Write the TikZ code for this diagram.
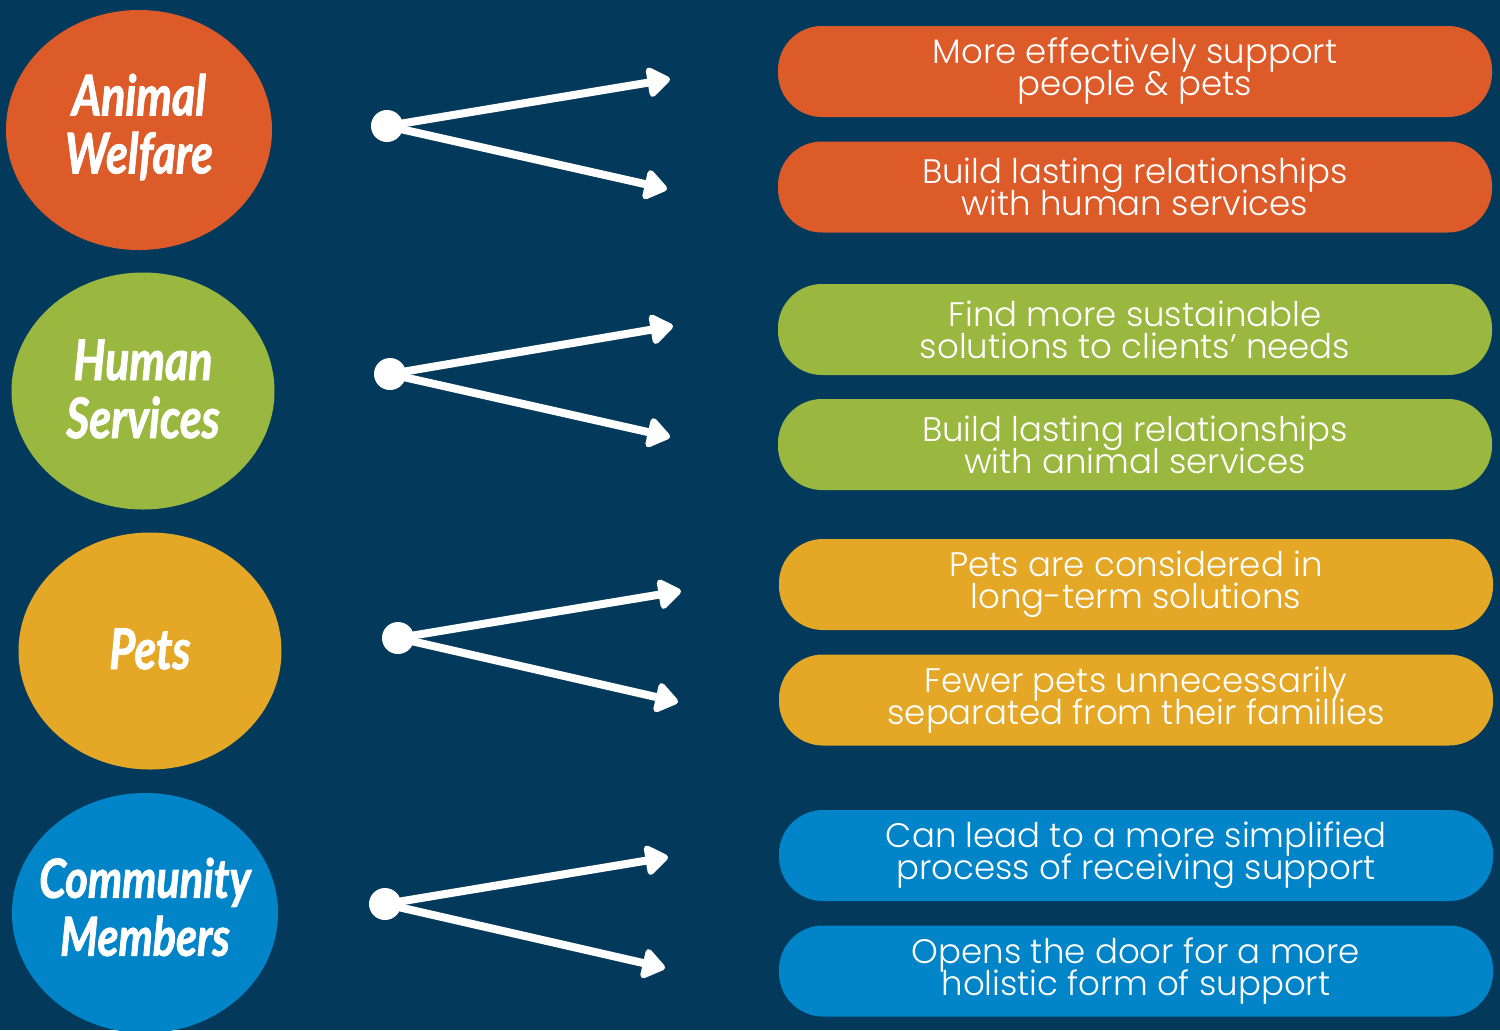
\documentclass[tikz,border=0pt]{standalone}
\usepackage{fontspec}
\setmainfont{Poppins Light}
\newfontfamily\brush{Lato}[FakeStretch=0.8, BoldItalicFeatures={FakeBold=1.5}]
\usetikzlibrary{arrows.meta,shapes.geometric}
\definecolor{bg}{RGB}{3,58,92}
\definecolor{corange}{RGB}{221,90,41}
\definecolor{cgreen}{RGB}{154,184,64}
\definecolor{cyellow}{RGB}{228,167,38}
\definecolor{cblue}{RGB}{2,132,200}
\newcommand\tightlines{\lineskiplimit=-20pt\relax}
\begin{document}
\begin{tikzpicture}[x=0.5pt,y=-0.5pt,
 circ/.style={ellipse, inner sep=0pt},
 circtext/.style={inner sep=0pt, text=white, align=center,
   font=\brush\bfseries\itshape\fontsize{28}{29}\selectfont\tightlines},
 pill/.style={rounded corners=22pt, minimum width=357pt, minimum height=45.5pt,
   inner sep=0pt, text=white, align=center, font=\fontsize{17}{16}\selectfont\tightlines},
 dot/.style={circle, fill=white, minimum size=16pt, inner sep=0pt},
 arr/.style={draw=white, line width=4pt, -{Triangle[length=12.5pt,width=17pt,round]}},
]
\fill[bg] (0,0) rectangle (1500,1030);
\useasboundingbox (0,0) rectangle (1500,1030);
\clip (0,0) rectangle (1500,1030);

% circles
\node[circ, fill=corange, minimum width=133pt, minimum height=120pt] (c1) at (139,130) {};
\node[circ, fill=cgreen, minimum width=131.5pt, minimum height=118.5pt] (c2) at (143,391) {};
\node[circ, fill=cyellow, minimum width=131.5pt, minimum height=118.5pt] (c3) at (150,651) {};
\node[circ, fill=cblue, minimum width=133pt, minimum height=120pt] (c4) at (145,913) {};
\node[circtext] (l1) at ([yshift=1.5pt]c1.center) {Animal\\Welfare};
\node[circtext] (l2) at ([yshift=1pt]c2.center) {Human\\Services};
\node[circtext] (l3) at ([yshift=1pt]c3.center) {Pets};
\node[circtext, font=\brush\bfseries\itshape\fontsize{27}{29}\selectfont\tightlines] (l4) at ([yshift=3pt]c4.center) {Community\\Members};

% pills
\node[pill, fill=corange] (p1a) at (1135,71.5) {More effectively support\\people \& pets};
\node[pill, fill=corange] (p1b) at (1135,187) {Build lasting relationships\\with human services};
\node[pill, fill=cgreen] (p2a) at (1135,329.5) {Find more sustainable\\solutions to clients’ needs};
\node[pill, fill=cgreen] (p2b) at (1135,444.5) {Build lasting relationships\\with animal services};
\node[pill, fill=cyellow] (p3a) at (1136,584.5) {Pets are considered in\\long-term solutions};
\node[pill, fill=cyellow] (p3b) at (1136,700) {Fewer pets unnecessarily\\separated from their famillies};
\node[pill, fill=cblue] (p4a) at (1136,855.5) {Can lead to a more simplified\\process of receiving support};
\node[pill, fill=cblue] (p4b) at (1136,971) {Opens the door for a more\\holistic form of support};

% dots and arrows
\node[dot] (d1) at (387,126) {};
\node[dot] (d2) at (390,374) {};
\node[dot] (d3) at (398,638) {};
\node[dot] (d4) at (385,904) {};
\coordinate (t1a) at (670,79);  \coordinate (t1b) at (667,189);
\coordinate (t2a) at (673,326); \coordinate (t2b) at (670,437);
\coordinate (t3a) at (681,591); \coordinate (t3b) at (678,702);
\coordinate (t4a) at (668,857); \coordinate (t4b) at (665,968);
\foreach \i in {1,2,3,4}{
  \draw[arr] (d\i.center) -- (t\i a);
  \draw[arr] (d\i.center) -- (t\i b);
}
\end{tikzpicture}
\end{document}
